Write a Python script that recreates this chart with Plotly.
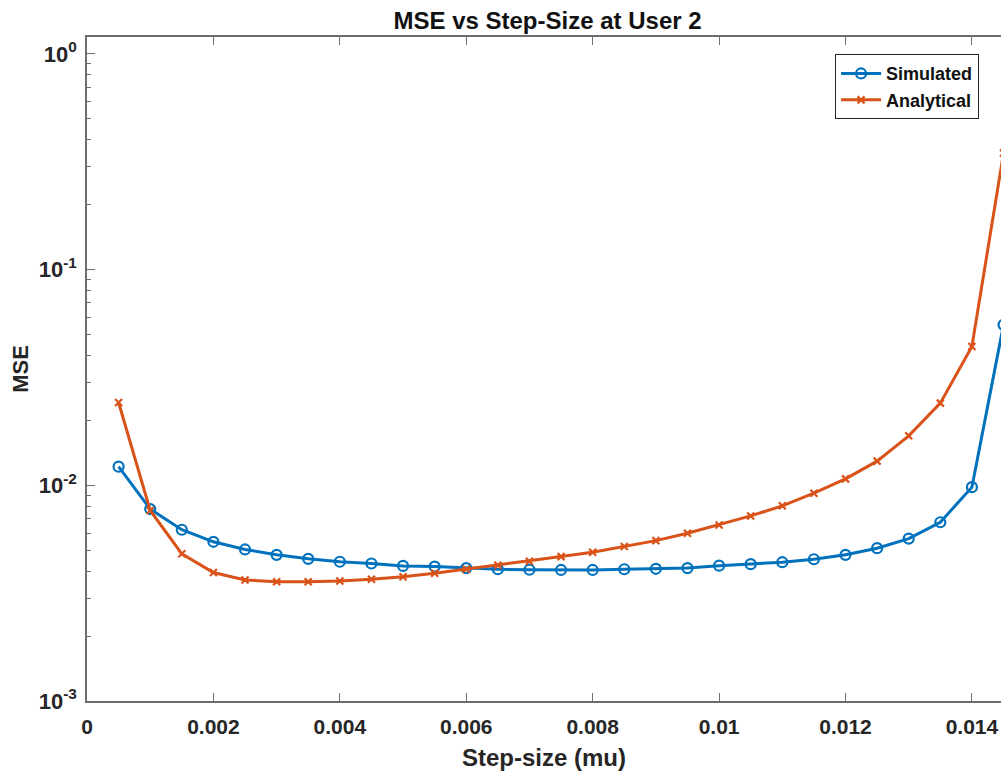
import plotly.graph_objects as go

step_size = [0.0005, 0.001, 0.0015, 0.002, 0.0025, 0.003, 0.0035, 0.004, 0.0045, 0.005,
             0.0055, 0.006, 0.0065, 0.007, 0.0075, 0.008, 0.0085, 0.009, 0.0095, 0.01,
             0.0105, 0.011, 0.0115, 0.012, 0.0125, 0.013, 0.0135, 0.014, 0.0145]

mse_simulated = [0.0122, 0.00776, 0.00622, 0.00547, 0.00504, 0.00476, 0.00456, 0.00442, 0.00434, 0.00423,
                 0.00420, 0.00413, 0.00408, 0.00406, 0.00405, 0.00405, 0.00408, 0.00410, 0.00413, 0.00424,
                 0.00431, 0.00440, 0.00454, 0.00476, 0.00511, 0.00566, 0.00674, 0.0098, 0.0555]

mse_analytical = [0.0242, 0.00764, 0.00481, 0.00394, 0.00364, 0.00357, 0.00357, 0.00360, 0.00367, 0.00377,
                  0.00391, 0.00408, 0.00426, 0.00444, 0.00467, 0.00489, 0.00520, 0.00554, 0.00599, 0.00655,
                  0.00721, 0.00803, 0.00919, 0.01071, 0.01294, 0.01695, 0.02403, 0.0440, 0.347]

x_tick_vals = [0, 0.002, 0.004, 0.006, 0.008, 0.01, 0.012, 0.014]
x_tick_text = ["0", "0.002", "0.004", "0.006", "0.008", "0.01", "0.012", "0.014"]
y_tick_vals = [1e-3, 1e-2, 1e-1, 1e0]
y_tick_text = ["10<sup>-3</sup>", "10<sup>-2</sup>", "10<sup>-1</sup>", "10<sup>0</sup>"]
y_minor_vals = [m * 10.0 ** e for e in (-3, -2, -1) for m in range(2, 10)]

blue = "#0072BD"
orange = "#D95319"
axis_color = "#6e6e6e"
font_family = "Liberation Sans, Arial, sans-serif"

fig = go.Figure()
fig.add_trace(go.Scatter(
    x=step_size, y=mse_simulated, name="<b>Simulated</b>", mode="lines+markers",
    line=dict(color=blue, width=3),
    marker=dict(symbol="circle-open", size=10, color=blue, line=dict(width=2.2, color=blue)),
))
fig.add_trace(go.Scatter(
    x=step_size, y=mse_analytical, name="<b>Analytical</b>", mode="lines+markers",
    line=dict(color=orange, width=3),
    marker=dict(symbol="x-thin-open", size=7, color=orange, line=dict(width=2.2, color=orange)),
))

fig.update_layout(
    width=1001, height=774,
    margin=dict(l=87, r=0, t=37, b=73),
    paper_bgcolor="white", plot_bgcolor="white",
    font=dict(family=font_family, color="#262626"),
    title=dict(text="<b>MSE vs Step-Size at User 2</b>", x=0.547, xanchor="center",
               y=1 - 21 / 774, yanchor="middle", yref="container",
               font=dict(size=24, color="#111111", family=font_family)),
    showlegend=True,
    legend=dict(x=0.976, y=0.974, xanchor="right", yanchor="top",
                bordercolor="#262626", borderwidth=1, bgcolor="white",
                font=dict(size=18, color="#111111", family=font_family),
                tracegroupgap=0, itemwidth=40),
)

fig.update_xaxes(
    range=[0, 0.01446], tickvals=x_tick_vals,
    ticktext=["<b>%s</b>" % t for t in x_tick_text],
    ticks="inside", ticklen=8, tickwidth=1, tickcolor=axis_color,
    showline=True, linecolor=axis_color, linewidth=1.5, mirror="ticks",
    showgrid=False, zeroline=False, ticklabelstandoff=6,
    tickfont=dict(size=21, color="#262626"),
    title=dict(text="<b>Step-size (mu)</b>", font=dict(size=24, color="#262626"), standoff=12),
)
fig.update_yaxes(
    type="log", range=[-3, 0.078], tickvals=y_tick_vals,
    ticktext=["<b>%s</b>" % t for t in y_tick_text],
    ticks="inside", ticklen=8, tickwidth=1, tickcolor=axis_color,
    minor=dict(tickvals=y_minor_vals, ticks="inside", ticklen=4, tickcolor=axis_color, showgrid=False),
    showline=True, linecolor=axis_color, linewidth=1.5, mirror=False,
    showgrid=False, zeroline=False, ticklabelstandoff=4,
    tickfont=dict(size=22, color="#262626"),
    title=dict(text="<b>MSE</b>", font=dict(size=22, color="#262626"), standoff=4),
)

fig.write_html("out.html")
